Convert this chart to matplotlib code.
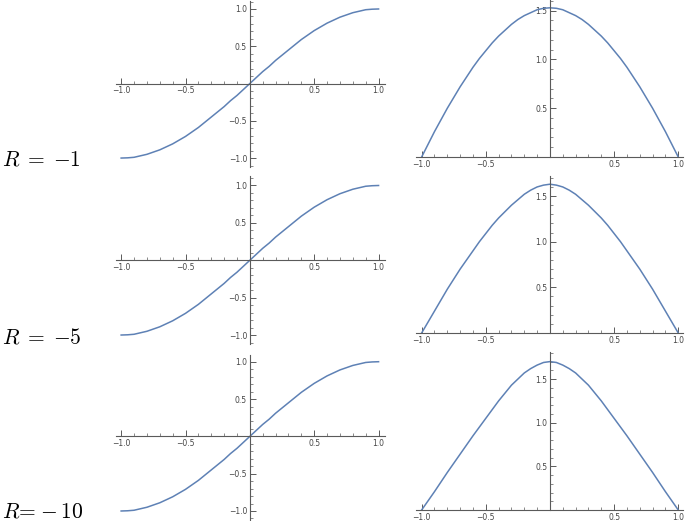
import matplotlib.pyplot as plt
import numpy as np

W, H = 685, 521

# values, x from -1 to 1 in steps of 0.05
x_vals = [-1.0, -0.95, -0.9, -0.85, -0.8, -0.75, -0.7, -0.65, -0.6, -0.55, -0.5,
          -0.45, -0.4, -0.35, -0.3, -0.25, -0.2, -0.15, -0.1, -0.05, 0.0,
          0.05, 0.1, 0.15, 0.2, 0.25, 0.3, 0.35, 0.4, 0.45, 0.5,
          0.55, 0.6, 0.65, 0.7, 0.75, 0.8, 0.85, 0.9, 0.95, 1.0]

left_R1 = [-1.0, -0.997, -0.99, -0.97, -0.95, -0.92, -0.89, -0.85, -0.81, -0.76, -0.71,
           -0.65, -0.59, -0.52, -0.45, -0.38, -0.31, -0.23, -0.16, -0.08, 0.0,
           0.08, 0.16, 0.23, 0.31, 0.38, 0.45, 0.52, 0.59, 0.65, 0.71,
           0.76, 0.81, 0.85, 0.89, 0.92, 0.95, 0.97, 0.99, 0.997, 1.0]
left_R5 = [-1.0, -0.997, -0.99, -0.97, -0.95, -0.92, -0.89, -0.85, -0.81, -0.76, -0.71,
           -0.65, -0.59, -0.52, -0.45, -0.38, -0.31, -0.23, -0.16, -0.08, 0.0,
           0.08, 0.16, 0.23, 0.31, 0.38, 0.45, 0.52, 0.59, 0.65, 0.71,
           0.76, 0.81, 0.85, 0.89, 0.92, 0.95, 0.97, 0.99, 0.997, 1.0]
left_R10 = [-1.0, -0.997, -0.99, -0.97, -0.95, -0.92, -0.89, -0.85, -0.81, -0.76, -0.71,
            -0.65, -0.59, -0.52, -0.45, -0.38, -0.31, -0.23, -0.16, -0.08, 0.0,
            0.08, 0.16, 0.23, 0.31, 0.38, 0.45, 0.52, 0.59, 0.65, 0.71,
            0.76, 0.81, 0.85, 0.89, 0.92, 0.95, 0.97, 0.99, 0.997, 1.0]

right_R1 = [0.0, 0.13, 0.26, 0.38, 0.50, 0.61, 0.72, 0.82, 0.92, 1.01, 1.09,
            1.17, 1.24, 1.30, 1.36, 1.41, 1.45, 1.48, 1.51, 1.525, 1.53,
            1.525, 1.51, 1.48, 1.45, 1.41, 1.36, 1.30, 1.24, 1.17, 1.09,
            1.01, 0.92, 0.82, 0.72, 0.61, 0.50, 0.38, 0.26, 0.13, 0.0]
right_R5 = [0.0, 0.12, 0.24, 0.36, 0.48, 0.59, 0.70, 0.80, 0.90, 1.00, 1.09,
            1.18, 1.26, 1.33, 1.40, 1.46, 1.52, 1.565, 1.60, 1.62, 1.63,
            1.62, 1.60, 1.565, 1.52, 1.46, 1.40, 1.33, 1.26, 1.18, 1.09,
            1.00, 0.90, 0.80, 0.70, 0.59, 0.48, 0.36, 0.24, 0.12, 0.0]
right_R10 = [0.0, 0.105, 0.21, 0.32, 0.43, 0.535, 0.64, 0.745, 0.85, 0.95, 1.05,
             1.15, 1.25, 1.34, 1.43, 1.50, 1.57, 1.62, 1.66, 1.69, 1.70,
             1.69, 1.66, 1.62, 1.57, 1.50, 1.43, 1.34, 1.25, 1.15, 1.05,
             0.95, 0.85, 0.745, 0.64, 0.535, 0.43, 0.32, 0.21, 0.105, 0.0]

row_labels = [r'$R\;=\;{-1}$', r'$R\;=\;{-5}$', r'$R\!=\!-10$']
left_ticks = [-1.0, -0.5, 0.5, 1.0]
left_ticklabels = ['\u22121.0', '\u22120.5', '0.5', '1.0']
right_yticks = [0.5, 1.0, 1.5]
right_yticklabels = ['0.5', '1.0', '1.5']

line_col = '#5e81b5'
axis_col = '#5a5a5a'
text_col = '#444444'

plt.rcParams['mathtext.fontset'] = 'cm'

fig = plt.figure(figsize=(W / 100, H / 100), dpi=100)


def add_axes(l, r, t, b):
    return fig.add_axes([l / W, 1 - b / H, (r - l) / W, (b - t) / H])


def style(ax, xlim, ylim, yticks, yticklabels):
    ax.set_xlim(xlim)
    ax.set_ylim(ylim)
    ax.patch.set_alpha(0)
    for s in ['top', 'right']:
        ax.spines[s].set_visible(False)
    ax.spines['left'].set_position(('data', 0))
    ax.spines['bottom'].set_position(('data', 0))
    for s in ['left', 'bottom']:
        ax.spines[s].set_color(axis_col)
        ax.spines[s].set_linewidth(0.8)
    ax.set_xticks(left_ticks)
    ax.set_xticklabels(left_ticklabels)
    ax.set_yticks(yticks)
    ax.set_yticklabels(yticklabels)
    xmin = [v for v in np.round(np.arange(-1.0, 1.01, 0.1), 1) if v not in left_ticks and v != 0]
    ax.set_xticks(xmin, minor=True)
    ymin = [v for v in np.round(np.arange(-1.1, ylim[1], 0.1), 1)
            if ylim[0] - 1e-9 <= v <= ylim[1] and v not in yticks and v != 0]
    ax.set_yticks(ymin, minor=True)
    ax.tick_params(which='major', direction='in', length=4, width=0.7, color=axis_col,
                   labelsize=5.5, labelcolor=text_col, pad=2)
    ax.tick_params(which='minor', direction='in', length=2.2, width=0.5, color=axis_col)


# pixel boxes [left, right, top, bottom] and limits
left_boxes = [(116, 385, 1, 167), (116, 385, 176, 344), (116, 385, 355, 521)]
left_ylims = [(-1.12, 1.107), (-1.12, 1.127), (-1.134, 1.09)]
right_boxes = [(416, 683, 0, 157), (416, 683, 176, 333), (416, 683, 352, 510)]
right_ylims = [(0, 1.61), (0, 1.72), (0, 1.81)]

left_data = [left_R1, left_R5, left_R10]
right_data = [right_R1, right_R5, right_R10]

for i in range(3):
    ax = add_axes(*left_boxes[i])
    ax.plot(x_vals, left_data[i], color=line_col, lw=1.1, clip_on=False)
    style(ax, (-1.04, 1.05), left_ylims[i], left_ticks, left_ticklabels)

    ax = add_axes(*right_boxes[i])
    ax.plot(x_vals, right_data[i], color=line_col, lw=1.1, clip_on=False)
    style(ax, (-1.044, 1.037), right_ylims[i], right_yticks, right_yticklabels)

label_y = [166, 343, 518]
for i in range(3):
    fig.text(2 / W, 1 - label_y[i] / H, row_labels[i], fontsize=15.5, color='black',
             ha='left', va='baseline')

plt.savefig('out.png', dpi=100)
plt.close()
